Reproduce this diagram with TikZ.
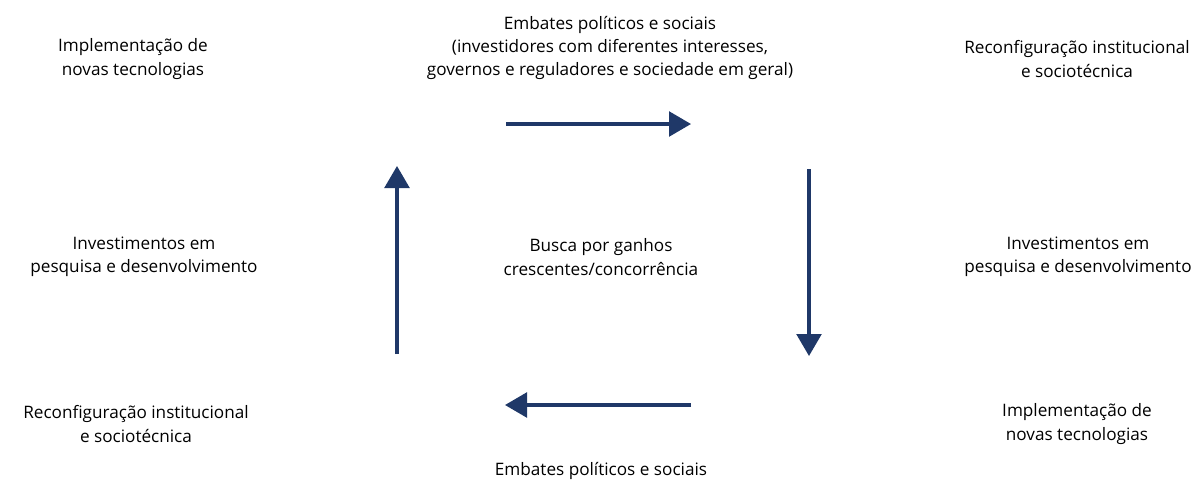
\documentclass[tikz,border=0pt]{standalone}
\usepackage{fontspec}
\setmainfont{Open Sans}
\usetikzlibrary{positioning}
\usetikzlibrary{arrows.meta}
\definecolor{ciclo}{HTML}{1F3868}

\begin{document}
\begin{tikzpicture}[x=0.025cm,y=-0.025cm,
  rotulo/.style={align=center,font=\fontsize{12.2}{16.6}\selectfont,black},
  seta/.style={line width=2.2pt,ciclo,-{Triangle[length=0.55cm,width=0.62cm]}}]
\useasboundingbox (0,0) rectangle (1203,482);

\node (topoesq) at (133,59) [rotulo] {Implementação de\\novas tecnologias};
\node (topo) at (610,48) [rotulo] {Embates políticos e sociais\\(investidores com diferentes interesses,\\governos e reguladores e sociedade em geral)};
\node (topodir) at (1077,59) [rotulo] {Reconfiguração institucional\\e sociotécnica};

\node (meioesq) at (144,257) [rotulo] {Investimentos em\\pesquisa e desenvolvimento};
\node (centro) at (601,257) [rotulo] {Busca por ganhos\\crescentes/concorrência};
\node (meiodir) at (1078,257) [rotulo] {Investimentos em\\pesquisa e desenvolvimento};

\node (baixoesq) at (136,424) [rotulo] {Reconfiguração institucional\\e sociotécnica};
\node (baixodir) at (1077,424) [rotulo] {Implementação de\\novas tecnologias};
\node (baixo) at (601,471) [rotulo] {Embates políticos e sociais};

% pontas das setas do ciclo
\coordinate (a1) at (506,124);
\coordinate (a2) at (691,124);
\coordinate (b1) at (809,169);
\coordinate (b2) at (809,356);
\coordinate (c1) at (691,405);
\coordinate (c2) at (505,405);
\coordinate (d1) at (397,354);
\coordinate (d2) at (397,166);

\draw[seta] (a1) -- (a2);
\draw[seta] (b1) -- (b2);
\draw[seta] (c1) -- (c2);
\draw[seta] (d1) -- (d2);

\end{tikzpicture}
\end{document}
